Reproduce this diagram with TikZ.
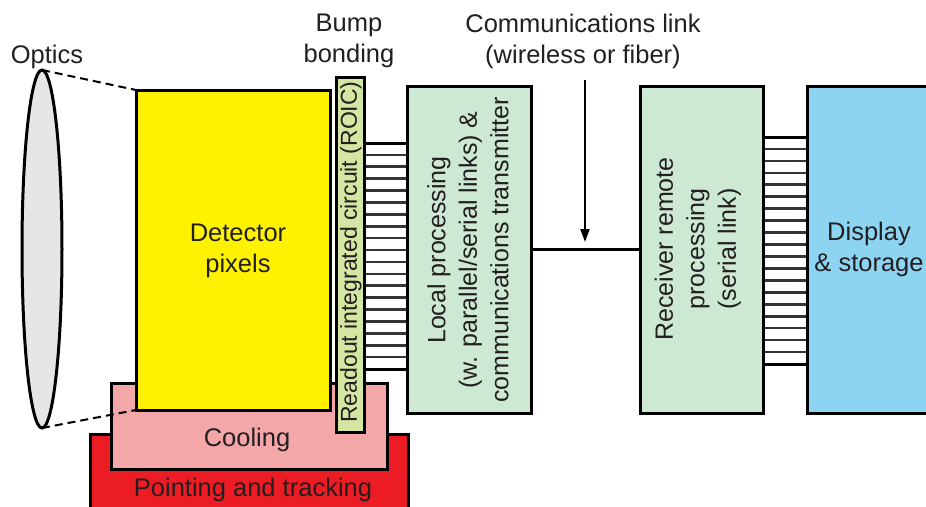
\documentclass[tikz,border=0pt]{standalone}
\usepackage{fontspec}
\setmainfont{Liberation Sans}
\usetikzlibrary{arrows.meta,shapes.geometric}
\definecolor{txt}{HTML}{231F20}
\definecolor{detyel}{HTML}{FFF200}
\definecolor{roicgr}{HTML}{D5E5A2}
\definecolor{procgr}{HTML}{CDE8D3}
\definecolor{dispbl}{HTML}{8DD4F3}
\definecolor{coolpk}{HTML}{F4A7A9}
\definecolor{pointrd}{HTML}{EC1C24}
\definecolor{lensgr}{HTML}{E6E6E7}
\definecolor{stripe}{HTML}{333333}
\tikzset{
  blk/.style={draw=black, line width=3pt, rectangle, inner sep=0pt, outer sep=0pt},
  lbl/.style={text=txt, font=\fontsize{25.5}{31}\selectfont, align=center, inner sep=0pt},
  rlbl/.style={text=txt, font=\fontsize{25}{31.5}\selectfont, align=center, inner sep=0pt, rotate=90},
  stripeline/.style={draw=stripe, line width=2.6pt},
  bumpbox/.style={rectangle, fill=white, inner sep=0pt, outer sep=0pt},
}
\begin{document}
\begin{tikzpicture}[x=1pt,y=-1pt]
\useasboundingbox (0,0) rectangle (926,506);
\clip (0,0) rectangle (926,506);
\fill[white] (0,0) rectangle (926,506);

% base layers
\node[blk, fill=pointrd, minimum width=318pt, minimum height=90pt] (point) at (249,479) {};
\node[lbl, anchor=base] (pointt) at (253,496) {Pointing and tracking};
\node[blk, fill=coolpk, minimum width=276pt, minimum height=86pt] (cool) at (249,426) {};
\node[lbl, anchor=base] (coolt) at (247,446) {Cooling};

% detector
\node[blk, fill=detyel, minimum width=194pt, minimum height=320pt] (det) at (233,250) {};
\node[lbl] (dett) at (238,251) {Detector\\pixels};

% ROIC
\node[blk, fill=roicgr, minimum width=28pt, minimum height=355pt] (roic) at (350,254.5) {};
\node[rlbl, font=\fontsize{23}{28}\selectfont] (roict) at (351,252) {Readout integrated circuit (ROIC)};

% bump bonding stripes 1
\node[bumpbox, minimum width=44pt, minimum height=226pt] (bumpA) at (385.5,256) {};
\draw[line width=3pt] (bumpA.north west) -- (bumpA.north east);
\draw[line width=3pt] (bumpA.south west) -- (bumpA.south east);
\foreach \i in {1,...,18} {
  \draw[stripeline] ([yshift=-\i*226/19 pt]bumpA.north west) -- ([yshift=-\i*226/19 pt]bumpA.north east);
}

% local processing
\node[blk, fill=procgr, minimum width=124pt, minimum height=327pt] (loc) at (469,249.5) {};
\node[rlbl] (loct) at (468,250) {Local processing\\(w. parallel/serial links) \&\\communications transmitter};

% receiver
\node[blk, fill=procgr, minimum width=123pt, minimum height=327pt] (rcv) at (701.5,249.5) {};
\node[rlbl] (rcvt) at (698,249) {Receiver remote\\processing\\(serial link)};

% bump bonding stripes 2
\node[bumpbox, minimum width=44pt, minimum height=227pt] (bumpB) at (785,250.5) {};
\draw[line width=3pt] (bumpB.north west) -- (bumpB.north east);
\draw[line width=3pt] (bumpB.south west) -- (bumpB.south east);
\foreach \i in {1,...,18} {
  \draw[stripeline] ([yshift=-\i*227/19 pt]bumpB.north west) -- ([yshift=-\i*227/19 pt]bumpB.north east);
}

% display
\node[blk, fill=dispbl, minimum width=140pt, minimum height=327pt] (disp) at (877,249.5) {};
\node[lbl] (dispt) at (869,249) {Display\\\& storage};

% redraw box borders over stripes
\draw[line width=3pt] (roic.north east) -- (roic.south east);
\draw[line width=3pt] (loc.north west) -- (loc.south west);
\draw[line width=3pt] (rcv.north east) -- (rcv.south east);
\draw[line width=3pt] (disp.north west) -- (disp.south west);

% communications link
\draw[line width=3pt] (loc.east) -- (rcv.west);
\coordinate (arrtop) at (585,80);
\coordinate (arrtip) at (585,242);
\draw[line width=2pt, -{Triangle[length=13pt,width=9pt]}] (arrtop) -- (arrtip);

% optics
\node[draw=black, line width=3pt, fill=lensgr, ellipse, minimum width=40pt, minimum height=358pt, inner sep=0pt, outer sep=0pt] (lens) at (42,249) {};
\draw[dashed, dash pattern=on 8pt off 5pt, line width=2pt] (lens.north) -- (det.north west);
\draw[dashed, dash pattern=on 8pt off 5pt, line width=2pt] (lens.south) -- (det.south west);

% top labels
\node[lbl, anchor=base] (optt) at (47,63) {Optics};
\node[lbl] (bumpt) at (349,41) {Bump\\bonding};
\node[lbl] (commt) at (583,41) {Communications link\\(wireless or fiber)};
\end{tikzpicture}
\end{document}
